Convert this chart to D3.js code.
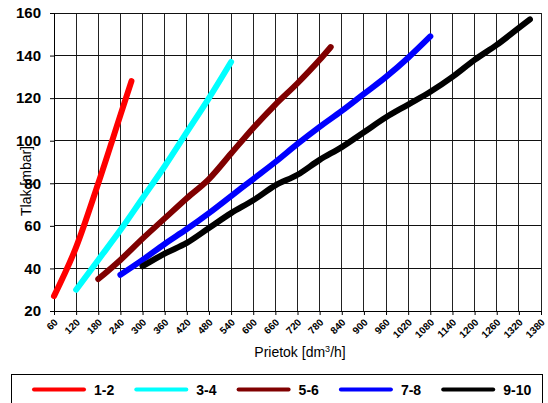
<!DOCTYPE html>
<html>
<head>
<meta charset="utf-8">
<script src="https://cdn.jsdelivr.net/npm/d3@7"></script>
<style>
  body { margin: 0; background: #fff; }
  svg { font-family: "Liberation Sans", Arial, sans-serif; }
  .tick text { fill: #000; }
</style>
</head>
<body>
<svg id="chart" width="548" height="403"></svg>
<script>
(function() {
    var width = 548, height = 403

    // tick labels
    const xTicks = [60, 120, 180, 240, 300, 360, 420, 480, 540, 600, 660, 720, 780,
                    840, 900, 960, 1020, 1080, 1140, 1200, 1260, 1320, 1380]
    const yTicks = [20, 40, 60, 80, 100, 120, 140, 160]

    // series names and colours
    const names = ["1-2", "3-4", "5-6", "7-8", "9-10"]
    const colors = ["#ff0000", "#00ffff", "#800000", "#0000ff", "#000000"]

    // flow [dm3/h] and pressure [mbar]
    const flow12 = [60, 120, 180, 240, 270]
    const tlak12 = [27, 50, 80, 112, 128]
    const flow34 = [120, 180, 240, 300, 360, 420, 480, 540]
    const tlak34 = [30, 44, 58, 73, 88, 104, 120, 137]
    const flow56 = [180, 240, 300, 360, 420, 480, 540, 600, 660, 720, 780, 810]
    const tlak56 = [35, 44, 54, 63.5, 73, 82, 94, 106, 117, 127, 138, 144]
    const flow78 = [240, 300, 360, 420, 480, 540, 600, 660, 720, 780, 840, 900, 960, 1020, 1080]
    const tlak78 = [37, 44, 51.5, 58.5, 66, 74, 82, 90, 98.5, 106.5, 114, 122, 130, 139, 149]
    const flow910 = [300, 360, 420, 480, 540, 600, 660, 720, 780, 840, 900, 960, 1020, 1080, 1140, 1200, 1260, 1320, 1350]
    const tlak910 = [41, 47, 52, 59, 66, 72, 79, 84, 91, 97, 104, 111, 117, 123, 130, 138, 145, 153, 157]

    const flows = [flow12, flow34, flow56, flow78, flow910]
    const tlaks = [tlak12, tlak34, tlak56, tlak78, tlak910]
    const series = names.map((n, i) => ({
        name: n, color: colors[i],
        values: flows[i].map((f, j) => ({ x: f, y: tlaks[i][j] }))
    }))

    const svg = d3.select("#chart")

    var x = d3.scaleLinear().domain([60, 1380]).range([54, 541])
    var y = d3.scaleLinear().domain([20, 160]).range([311, 13])

    // grid
    const grid = svg.append("g").attr("shape-rendering", "crispEdges")
    grid.selectAll(".vg").data(xTicks.slice(1)).enter().append("line")
        .attr("x1", d => x(d)).attr("x2", d => x(d))
        .attr("y1", y(20)).attr("y2", y(160))
        .attr("stroke", "#222").attr("stroke-width", 1)
    grid.selectAll(".hg").data(yTicks.slice(1)).enter().append("line")
        .attr("x1", x(60)).attr("x2", x(1380))
        .attr("y1", d => y(d)).attr("y2", d => y(d))
        .attr("stroke", "#111").attr("stroke-width", 1)

    // axes
    const yAxis = svg.append("g")
        .attr("transform", `translate(${x(60)},0)`)
        .call(d3.axisLeft(y).tickValues(yTicks).tickSize(4).tickPadding(9))
    yAxis.selectAll("text").attr("font-size", 15).attr("font-weight", "bold")
    yAxis.select(".domain").attr("stroke", "#000")

    const xAxis = svg.append("g")
        .attr("transform", `translate(0,${y(20)})`)
        .call(d3.axisBottom(x).tickValues(xTicks).tickSize(4).tickFormat(d3.format("d")))
    xAxis.selectAll("text")
        .attr("font-size", 10).attr("font-weight", "bold")
        .attr("text-anchor", "end")
        .attr("y", 0).attr("dy", 0)
        .attr("transform", "translate(4,12) rotate(-45)")

    // y axis title, overlapping the tick labels as in the original
    svg.append("text")
        .attr("transform", "translate(31,181) rotate(-90)")
        .attr("text-anchor", "middle")
        .attr("font-size", 14)
        .text("Tlak [mbar]")

    // x axis title
    const xt = svg.append("text")
        .attr("x", 300).attr("y", 357)
        .attr("text-anchor", "middle")
        .attr("font-size", 14)
    xt.append("tspan").text("Prietok [dm")
    xt.append("tspan").attr("font-size", 9).attr("dy", -5).text("3")
    xt.append("tspan").attr("dy", 5).text("/h]")

    // lines
    const line = d3.line()
        .x(d => x(d.x)).y(d => y(d.y))
        .curve(d3.curveMonotoneX)

    svg.append("g").selectAll("path").data(series).enter().append("path")
        .attr("d", d => line(d.values))
        .attr("fill", "none")
        .attr("stroke", d => d.color)
        .attr("stroke-width", 6)
        .attr("stroke-linecap", "round")
        .attr("stroke-linejoin", "round")

    // legend
    svg.append("rect")
        .attr("x", 11.5).attr("y", 374.5)
        .attr("width", 531).attr("height", 40)
        .attr("fill", "#fff").attr("stroke", "#000")

    const item = svg.append("g").selectAll("g").data(series).enter().append("g")
        .attr("transform", (d, i) => `translate(${34 + i * 102.3},389.5)`)
    item.append("line")
        .attr("x1", 0).attr("x2", 50)
        .attr("stroke", d => d.color)
        .attr("stroke-width", 4)
        .attr("stroke-linecap", "round")
    item.append("text")
        .attr("x", 60).attr("y", 5)
        .attr("font-size", 14).attr("font-weight", "bold")
        .text(d => d.name)
})();
</script>
</body>
</html>
